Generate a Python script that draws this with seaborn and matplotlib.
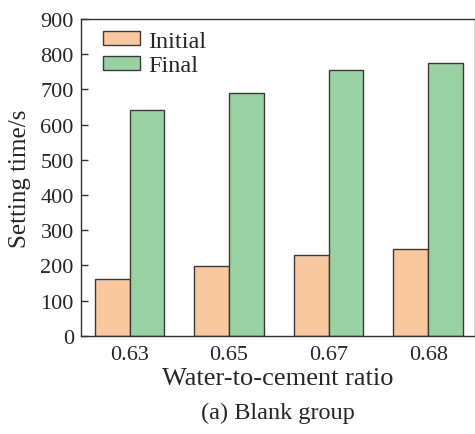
import matplotlib
matplotlib.use("Agg")
import matplotlib.pyplot as plt
import seaborn as sns
import pandas as pd

ratios = ["0.63", "0.65", "0.67", "0.68"]
initial_times = [162, 199, 230, 245]
final_times = [641, 689, 756, 776]
series_names = ["Initial", "Final"]
y_ticks = [0, 100, 200, 300, 400, 500, 600, 700, 800, 900]

df = pd.DataFrame({
    "ratio": ratios * 2,
    "time": initial_times + final_times,
    "stage": [series_names[0]] * len(ratios) + [series_names[1]] * len(ratios),
})

sns.set_theme(style="ticks")
plt.rcParams["font.family"] = ["Liberation Serif", "DejaVu Serif"]

fig = plt.figure(figsize=(4.75, 4.35), dpi=100)
ax = fig.add_axes([0.170, 0.226, 0.830, 0.728])

palette = {"Initial": "#F9C89F", "Final": "#99D2A2"}
sns.barplot(data=df, x="ratio", y="time", hue="stage", palette=palette,
            width=0.7, edgecolor="#3a3a3a", linewidth=1.0, saturation=1,
            ax=ax)

ax.set_xlim(-0.49, 3.47)
ax.set_ylim(0, 900)
ax.set_yticks(y_ticks)
ax.tick_params(axis="y", direction="in", length=5, width=1, labelsize=16,
               color="#333333", pad=5)
ax.tick_params(axis="x", length=0, labelsize=16, pad=7)
for s in ax.spines.values():
    s.set_color("#333333")
    s.set_linewidth(1.0)

ax.set_xlabel("Water-to-cement ratio", fontsize=19, labelpad=2)
ax.set_ylabel("Setting time/s", fontsize=18, labelpad=7)

leg = ax.legend(loc="upper left", frameon=False, fontsize=17.5,
                handlelength=1.5, handleheight=0.5, handletextpad=0.35,
                labelspacing=0.14, borderpad=0, borderaxespad=0,
                bbox_to_anchor=(0.057, 0.962))
for h in leg.legend_handles:
    h.set_edgecolor("#3a3a3a")
    h.set_linewidth(1.0)

fig.text(0.585, 0.05, "(a) Blank group", ha="center", va="center",
         fontsize=17.5)

fig.savefig("out.png", dpi=100)
